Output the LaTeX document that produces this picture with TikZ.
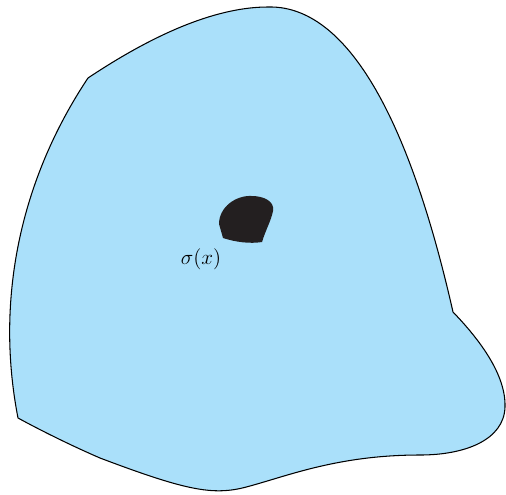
\documentclass[tikz,border=0pt]{standalone}
\usepackage{amsmath, amssymb}
\usepackage{xcolor}
\usetikzlibrary{positioning, calc}
\definecolor{regionblue}{RGB}{170,224,250}
\definecolor{blobblack}{RGB}{35,31,32}
\begin{document}
\begin{tikzpicture}[x=0.02cm, y=-0.02cm]
            \useasboundingbox (0,0) rectangle (506,494);

            % 区域
            \filldraw[fill=regionblue, draw=black, line width=0.6pt]
                (88,78) .. controls (160,30) and (220,7) .. (268,7)
                .. controls (340,5) and (405,100) .. (453,312)
                .. controls (480,340) and (506,375) .. (505,407)
                .. controls (504,440) and (465,455) .. (420,455)
                .. controls (340,455) and (290,475) .. (250,486)
                .. controls (215,496) and (190,492) .. (100,458)
                .. controls (70,445) and (40,430) .. (18,418)
                .. controls (-5,300) and (20,180) .. (88,78) -- cycle;

            % 黑色小块
            \fill[blobblack] (223,238) -- (219,224)
                .. controls (219,207) and (236,195) .. (252,196)
                .. controls (263,196) and (275,201) .. (273,211)
                .. controls (271,221) and (266,229) .. (262,242)
                .. controls (250,244) and (235,242) .. (223,238) -- cycle;

            % 标注
            \node[font=\fontsize{12.5}{15}\selectfont] (sigma) at (201,259) {$\sigma(x)$};
        \end{tikzpicture}
\end{document}
